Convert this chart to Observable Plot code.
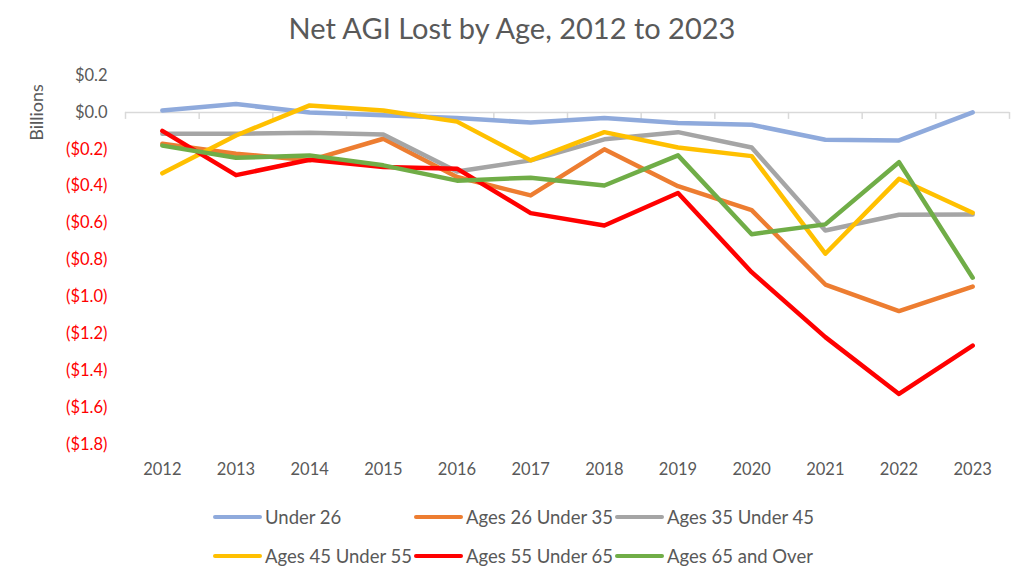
<!DOCTYPE html>
<html>
<head>
<meta charset="utf-8">
<script src="https://cdn.jsdelivr.net/npm/d3@7"></script>
<script src="https://cdn.jsdelivr.net/npm/@observablehq/plot@0.6"></script>
<style>
  html, body { margin: 0; padding: 0; background: #fff; }
  body { width: 1024px; height: 584px; overflow: hidden; font-family: Lato, "Open Sans", sans-serif; color: #595959; }
  #title { height: 56px; line-height: 56px; text-align: center; font-size: 29px; color: #595959; }
  #chart svg { display: block; }
  #legend { position: relative; height: 96px; }
  .item { position: absolute; display: flex; align-items: center; font-size: 18.5px; color: #595959; white-space: nowrap; }
  .sw { width: 49px; height: 4px; border-radius: 2px; margin-right: 3px; }
</style>
</head>
<body>
<div id="title">Net AGI Lost by Age, 2012 to 2023</div>
<div id="chart"></div>
<div id="legend"></div>
<script>
const years = [2012, 2013, 2014, 2015, 2016, 2017, 2018, 2019, 2020, 2021, 2022, 2023];
const seriesNames = ["Under 26", "Ages 26 Under 35", "Ages 35 Under 45", "Ages 45 Under 55", "Ages 55 Under 65", "Ages 65 and Over"];
const seriesColors = ["#8FAADC", "#ED7D31", "#A5A5A5", "#FFC000", "#FF0000", "#70AD47"];
const under26   = [0.01, 0.045, 0.0, -0.015, -0.03, -0.055, -0.03, -0.058, -0.067, -0.148, -0.152, 0.0];
const ages26_35 = [-0.17, -0.224, -0.26, -0.143, -0.35, -0.45, -0.20, -0.40, -0.53, -0.933, -1.077, -0.944];
const ages35_45 = [-0.116, -0.116, -0.11, -0.12, -0.32, -0.26, -0.146, -0.107, -0.19, -0.64, -0.555, -0.553];
const ages45_55 = [-0.33, -0.125, 0.038, 0.01, -0.05, -0.26, -0.107, -0.19, -0.237, -0.766, -0.36, -0.544];
const ages55_65 = [-0.10, -0.34, -0.257, -0.296, -0.305, -0.546, -0.613, -0.437, -0.866, -1.218, -1.526, -1.264];
const ages65up  = [-0.18, -0.246, -0.233, -0.287, -0.37, -0.354, -0.396, -0.233, -0.66, -0.607, -0.27, -0.896];
const yTicks = [0.2, 0, -0.2, -0.4, -0.6, -0.8, -1.0, -1.2, -1.4, -1.6, -1.8];
const yLabel = "Billions";

const seriesValues = [under26, ages26_35, ages35_45, ages45_55, ages55_65, ages65up];
const data = [];
seriesNames.forEach((name, i) => {
  years.forEach((yr, j) => data.push({series: name, year: yr, value: seriesValues[i][j]}));
});
const boundaries = [years[0] - 0.5, ...years.map(y => y + 0.5)];
const fmt = d => d >= 0 ? `$${Math.abs(d).toFixed(1)}` : `($${(-d).toFixed(1)})`;

const chart = Plot.plot({
  width: 1024,
  height: 432,
  marginLeft: 125,
  marginRight: 15,
  marginTop: 19,
  marginBottom: 44,
  style: {fontFamily: "Lato, 'Open Sans', sans-serif", fontSize: "16px", background: "white"},
  x: {domain: [years[0] - 0.5, years[years.length - 1] + 0.5], label: null},
  y: {domain: [-1.8, 0.2], label: null},
  color: {domain: seriesNames, range: seriesColors},
  marks: [
    Plot.ruleY([0], {stroke: "#D9D9D9", strokeWidth: 1.5}),
    Plot.ruleX(boundaries, {y1: 0, y2: -0.038, stroke: "#D9D9D9", strokeWidth: 1.5}),
    Plot.axisX({ticks: years, tickFormat: d => String(d), tickSize: 0, tickPadding: 19, fill: "#595959", fontSize: 16.5, anchor: "bottom", label: null}),
    Plot.axisY({ticks: yTicks.filter(d => d >= 0), tickFormat: fmt, tickSize: 0, tickPadding: 18, fill: "#595959", fontSize: 16.5, label: null}),
    Plot.axisY({ticks: yTicks.filter(d => d < 0), tickFormat: fmt, tickSize: 0, tickPadding: 18, fill: "#FF0000", fontSize: 16.5, label: null}),
    Plot.text([yLabel], {frameAnchor: "left", y: [0], text: d => d, rotate: -90, textAnchor: "middle", dx: -88, fill: "#595959", fontSize: 18}),
    Plot.line(data, {x: "year", y: "value", z: "series", stroke: "series", strokeWidth: 4.5, strokeLinejoin: "round", strokeLinecap: "round"})
  ]
});
document.getElementById("chart").appendChild(chart);

const legend = document.getElementById("legend");
seriesNames.forEach((name, i) => {
  const col = i % 3, row = Math.floor(i / 3);
  const el = document.createElement("div");
  el.className = "item";
  el.style.left = (213 + col * 201) + "px";
  el.style.top = (18 + row * 39) + "px";
  el.innerHTML = `<span class="sw" style="background:${seriesColors[i]}"></span><span>${name}</span>`;
  legend.appendChild(el);
});
</script>
</body>
</html>
